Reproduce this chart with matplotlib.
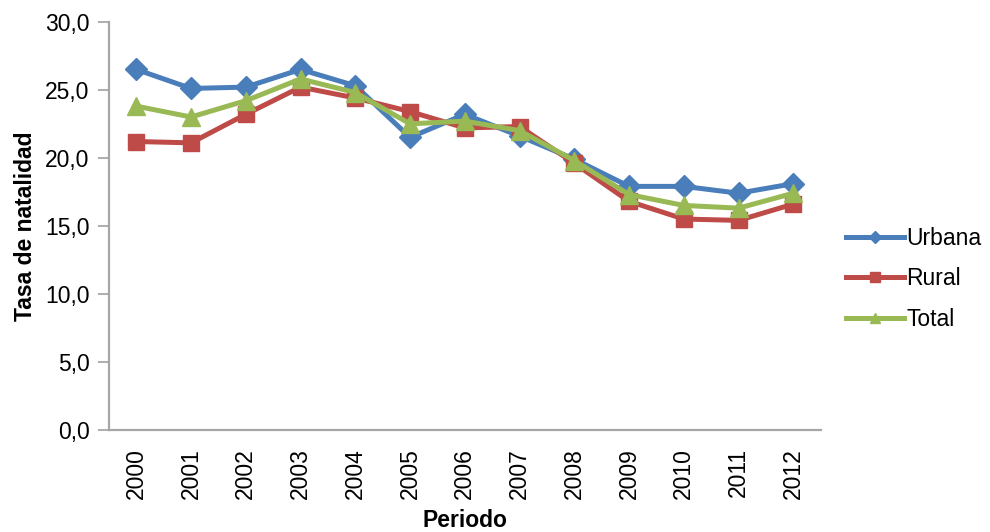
import matplotlib
matplotlib.use("Agg")
import matplotlib.pyplot as plt
from matplotlib.ticker import FuncFormatter

years = ["2000", "2001", "2002", "2003", "2004", "2005", "2006",
         "2007", "2008", "2009", "2010", "2011", "2012"]
urbana = [26.5, 25.1, 25.2, 26.5, 25.3, 21.5, 23.2, 21.6, 19.9, 17.9, 17.9, 17.4, 18.1]
rural = [21.2, 21.1, 23.2, 25.2, 24.4, 23.4, 22.2, 22.3, 19.6, 16.8, 15.5, 15.4, 16.6]
total = [23.8, 23.0, 24.2, 25.8, 24.8, 22.5, 22.7, 22.0, 19.8, 17.3, 16.5, 16.3, 17.4]

plt.rcParams['font.family'] = ['Liberation Sans', 'DejaVu Sans']
FS = 16.5

fig = plt.figure(figsize=(9.9, 5.32), dpi=100)
ax = fig.add_axes([0.110, 0.192, 0.719, 0.767])

x = list(range(len(years)))
ax.plot(x, urbana, color="#4A7EBB", lw=3.6, marker="D", ms=11, label="Urbana")
ax.plot(x, rural, color="#BE4B48", lw=3.6, marker="s", ms=12, label="Rural")
ax.plot(x, total, color="#98B954", lw=3.6, marker="^", ms=13, label="Total")

ax.set_xlim(-0.5, len(years) - 0.5)
ax.set_ylim(0, 30)
ax.set_yticks([0, 5, 10, 15, 20, 25, 30])
ax.yaxis.set_major_formatter(FuncFormatter(lambda v, p: f"{v:.1f}".replace(".", ",")))
ax.set_xticks(x)
ax.set_xticklabels(years, rotation=90)
ax.tick_params(axis='x', length=0, labelsize=FS, pad=13)
ax.tick_params(axis='y', length=8, color="#A0A0A0", width=1.2, labelsize=FS, pad=6)

for s in ["top", "right"]:
    ax.spines[s].set_visible(False)
for s in ["left", "bottom"]:
    ax.spines[s].set_color("#A6A6A6")
    ax.spines[s].set_linewidth(1.6)

ax.set_ylabel("Tasa de natalidad", fontsize=FS, fontweight="bold", labelpad=6)
ax.set_xlabel("Periodo", fontsize=FS, fontweight="bold", labelpad=7)

leg = fig.legend(loc="center left", bbox_to_anchor=(0.855, 0.4756), frameon=False,
                 fontsize=FS, handlelength=2.5, handletextpad=0.1, labelspacing=0.75,
                 borderaxespad=0, borderpad=0, markerscale=0.6)

fig.savefig("out.png", dpi=100)
